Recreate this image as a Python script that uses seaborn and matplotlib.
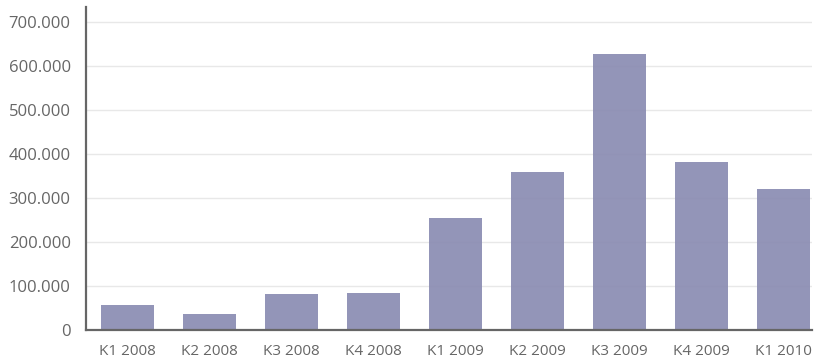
import matplotlib
matplotlib.use("Agg")
import matplotlib.pyplot as plt
import matplotlib.ticker as mticker
import seaborn as sns
import pandas as pd

categories = ["K1 2008", "K2 2008", "K3 2008", "K4 2008", "K1 2009",
              "K2 2009", "K3 2009", "K4 2009", "K1 2010"]
values = [57000, 36500, 82000, 84500, 255000, 359000, 627000, 382000, 320000]
y_ticks = [0, 100000, 200000, 300000, 400000, 500000, 600000, 700000]

df = pd.DataFrame({"cat": categories, "val": values})

sns.set_style("white")
plt.rcParams["font.family"] = ["Open Sans", "DejaVu Sans"]

fig = plt.figure(figsize=(8.17, 3.61), dpi=100)
ax = fig.add_axes([86 / 817, 31 / 361, (812 - 86) / 817, (330 - 7) / 361])

sns.barplot(data=df, x="cat", y="val", color="#8a8cb2", alpha=0.92,
            width=0.646, saturation=1, linewidth=0, ax=ax, zorder=2)

ax.set_xlim(-0.506, 8.35)
ax.set_ylim(0, 734000)
ax.set_yticks(y_ticks)
ax.yaxis.set_major_formatter(mticker.FuncFormatter(
    lambda v, p: f"{int(v):,}".replace(",", ".")))
ax.grid(axis="y", color="#e8e8e8", linewidth=1.0, zorder=0)
ax.set_axisbelow(True)
ax.set_xlabel("")
ax.set_ylabel("")

for s in ["top", "right"]:
    ax.spines[s].set_visible(False)
for s in ["left", "bottom"]:
    ax.spines[s].set_color("#666666")
    ax.spines[s].set_linewidth(1.6)
    ax.spines[s].set_zorder(3)

ax.tick_params(axis="y", length=0, pad=11, labelsize=12, labelcolor="#666666")
ax.tick_params(axis="x", length=0, pad=10, labelsize=11, labelcolor="#666666")

fig.savefig("out.png", dpi=100)
